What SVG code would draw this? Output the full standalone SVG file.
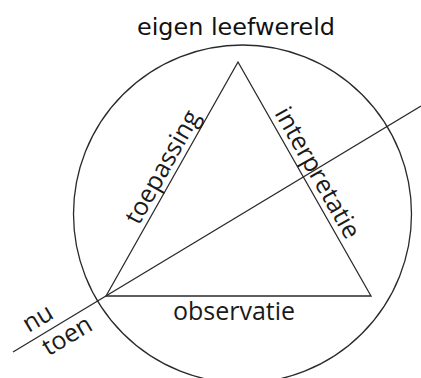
<svg xmlns="http://www.w3.org/2000/svg" width="421" height="378" viewBox="0 0 421 378">
<style>
.ln{fill:none;stroke:#2a2a2a;stroke-width:1.3}
.lb{font-family:"Open Sans","Liberation Sans",sans-serif;font-size:25px;fill:#1a1a1a;text-anchor:middle}
.tt{font-family:"DejaVu Sans","Liberation Sans",sans-serif;font-size:22.5px;fill:#111;text-anchor:middle}
</style>
<rect width="421" height="378" fill="#fff"/>
<g id="circle"><circle class="ln" cx="242.5" cy="214" r="169"/></g>
<g id="connectors">
<polygon class="ln" points="238,62 106,296 371,296"/>
<line class="ln" x1="13" y1="352" x2="421" y2="106"/>
</g>
<g id="title"><text class="tt" x="236" y="35" textLength="198" lengthAdjust="spacingAndGlyphs">eigen leefwereld</text></g>
<g id="observatie"><text class="lb" x="234" y="320">observatie</text></g>
<g id="toepassing"><text class="lb" transform="translate(175,174) rotate(-60.6)" x="0" y="-6">toepassing</text></g>
<g id="interpretatie"><text class="lb" transform="translate(305,180) rotate(60.4)" x="0" y="-6">interpretatie</text></g>
<g id="nu"><text class="lb" transform="translate(46,332) rotate(-31)" x="0" y="-8">nu</text></g>
<g id="toen"><text class="lb" transform="translate(60,324) rotate(-31)" x="0" y="22">toen</text></g>
</svg>
